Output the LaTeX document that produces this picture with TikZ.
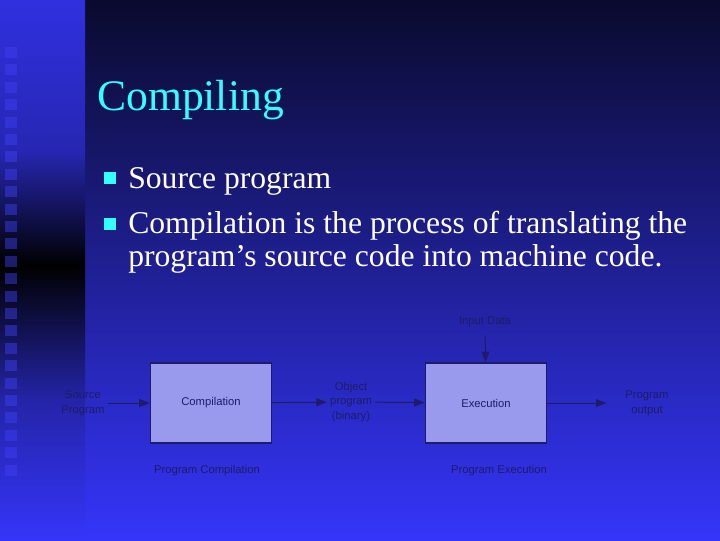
\documentclass[tikz,border=0pt]{standalone}
\usepackage{fontspec}
\setmainfont{Liberation Serif}
\newfontfamily\diafont{Liberation Sans}
\usetikzlibrary{positioning,arrows.meta}

\definecolor{slidetop}{HTML}{0A0A2E}
\definecolor{slidemid}{HTML}{1F1FA6}
\definecolor{slidebot}{HTML}{3535FA}
\definecolor{stripblue}{HTML}{3030E0}
\definecolor{squareblue}{HTML}{4040F4}
\definecolor{titlecyan}{HTML}{33FFFF}
\definecolor{boxfill}{HTML}{9999EE}
\definecolor{inkblue}{HTML}{1C1C68}

\tikzset{
  bullet/.style={fill=titlecyan, inner sep=0pt, minimum size=0.3cm},
  itemtext/.style={anchor=base west, inner sep=0pt, text=white, align=left,
    font=\fontsize{22.5}{23}\selectfont},
  stage/.style={draw=inkblue, fill=boxfill, line width=1pt,
    minimum width=3.025cm, minimum height=2cm, text=inkblue,
    font=\diafont\fontsize{8}{10.5}\selectfont},
  lbl/.style={text=inkblue, align=center, inner sep=2pt,
    font=\diafont\fontsize{8}{10.5}\selectfont},
  flow/.style={draw=inkblue, line width=0.7pt, -{Triangle[length=7.5pt,width=5.5pt]}}
}

\begin{document}
\begin{tikzpicture}[x=0.025cm,y=-0.025cm]
        \useasboundingbox (0,0) rectangle (720,540);

        \shade[top color=slidetop, middle color=slidemid, bottom color=slidebot] (85,0) rectangle (720,540);
        \shade[top color=stripblue, bottom color=stripblue!80!black] (0,0) rectangle (85,150);
        \shade[top color=stripblue!80!black, bottom color=black] (0,150) rectangle (85,265);
        \shade[top color=black, bottom color=stripblue!75!black] (0,265) rectangle (85,400);
        \shade[top color=stripblue!75!black, bottom color=slidebot] (0,400) rectangle (85,540);
        \foreach \k in {0,...,24}
            \fill[squareblue, opacity=0.45] (5,{47+17.4*\k}) rectangle ++(12,11);

        \node[anchor=base west, inner sep=0pt, text=titlecyan,
              font=\fontsize{31}{36}\selectfont] (title) at (97,110) {Compiling};

        \node[bullet] (b1) at (110,178) {};
        \node[bullet] (b2) at (110,224) {};
        \node[itemtext] (srcitem) at (128,188) {Source program};
        \node[itemtext] (compitem) at (128,266) {Compilation is the process of translating the\\program’s source code into machine code.};

        \node[stage] (comp) at (211,403) {Compilation};
        \node[stage] (exec) at (486,403) {Execution};
        \node[lbl] (src) at (83,403) {Source\\Program};
        \node[lbl] (obj) at (351,402) {Object\\program\\(binary)};
        \node[lbl] (inp) at (485,322) {Input Data};
        \node[lbl] (out) at (647,403) {Program\\output};
        \node[lbl] (compcap) at (207,471) {Program Compilation};
        \node[lbl] (execcap) at (499,471) {Program Execution};

        \draw[flow] (src) -- (comp);
        \draw[flow] (comp) -- (obj);
        \draw[flow] (obj) -- (exec);
        \draw[flow, shorten <=4pt] (inp) -- (exec);
        \draw[flow, shorten >=0.4cm] (exec) -- (out);
    \end{tikzpicture}
\end{document}
